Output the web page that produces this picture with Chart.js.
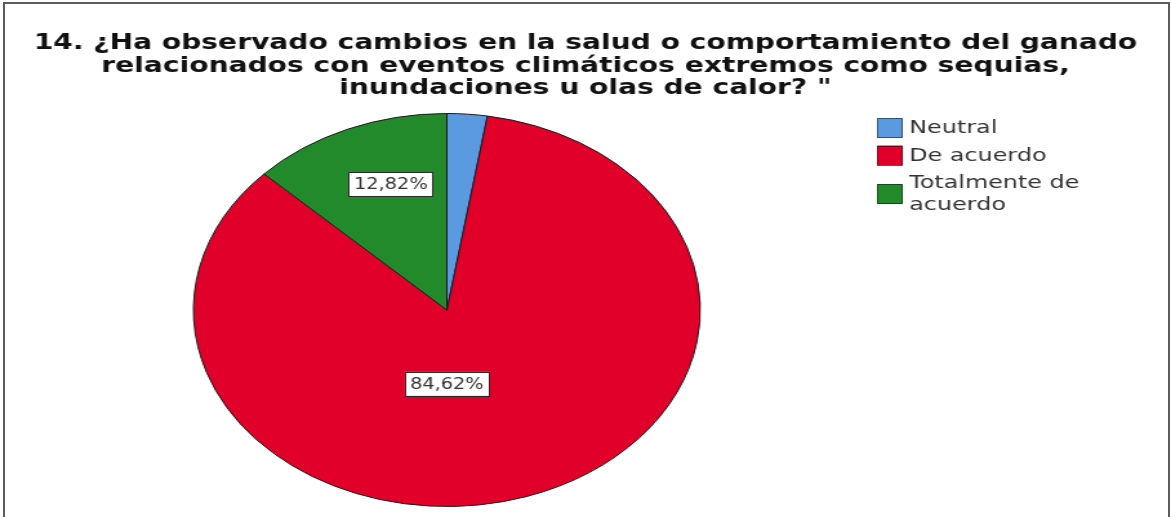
<!DOCTYPE html>
<html lang="es">
<head>
<meta charset="utf-8">
<title>Salud del ganado y eventos climáticos</title>
<script src="https://cdn.jsdelivr.net/npm/chart.js@4.4.1/dist/chart.umd.min.js"></script>
<style>
  html, body { margin: 0; padding: 0; background: #fff; overflow: hidden; }
  #marco {
    position: absolute; left: 3px; top: 2px;
    width: 1163px; height: 530px;
    border: 2px solid #5c5c5c; border-bottom: none;
  }
  #grafico { position: absolute; left: 0; top: 0; }
</style>
</head>
<body>
<div id="marco"></div>
<!-- el lienzo se dibuja a 908px y se estira a lo ancho, como el gráfico exportado -->
<canvas id="grafico" width="908" height="517" style="width:1171px;height:517px"></canvas>
<script>
const titulo = [
    '14. ¿Ha observado cambios en la salud o comportamiento del ganado',
    'relacionados con eventos climáticos extremos como sequias,',
    'inundaciones u olas de calor? "'
];
const categorias = ['Neutral', 'De acuerdo', 'Totalmente de acuerdo'];
const porcentajes = [2.56, 84.62, 12.82];
const conEtiqueta = [false, true, true];

const colores = ['#5b9ae0', '#e0002a', '#238a2b'];

// posición de las etiquetas: fracción del radio y giro sobre el ángulo medio
const etiquetaRadio = [0.6, 0.376, 0.677];
const etiquetaGiro = [0, 0.322, 0.07];

function formato(v) {
    return v.toFixed(2).replace('.', ',') + '%';
}

function partirTexto(ctx, texto, ancho) {
    const palabras = texto.split(' ');
    const lineas = [];
    let actual = '';
    palabras.forEach(p => {
        const prueba = actual ? actual + ' ' + p : p;
        if (actual && ctx.measureText(prueba).width > ancho) {
            lineas.push(actual);
            actual = p;
        } else {
            actual = prueba;
        }
    });
    if (actual) lineas.push(actual);
    return lineas;
}

const rotulos = {
    id: 'rotulos',
    afterDraw(chart) {
        const ctx = chart.ctx;
        ctx.save();

        // titulo
        ctx.fillStyle = '#111';
        ctx.font = 'bold 21.8px "DejaVu Sans"';
        ctx.textAlign = 'center';
        ctx.textBaseline = 'alphabetic';
        titulo.forEach((linea, i) => {
            ctx.fillText(linea, chart.width / 2, 49 + i * 22.5);
        });

        // etiquetas de porcentaje
        const meta = chart.getDatasetMeta(0);
        ctx.font = '15px "DejaVu Sans"';
        ctx.textBaseline = 'middle';
        meta.data.forEach((arco, i) => {
            if (!conEtiqueta[i]) return;
            const p = arco.getProps(['x', 'y', 'startAngle', 'endAngle', 'outerRadius'], true);
            const ang = (p.startAngle + p.endAngle) / 2 + etiquetaGiro[i];
            const r = p.outerRadius * etiquetaRadio[i];
            const cx = p.x + Math.cos(ang) * r;
            const cy = p.y + Math.sin(ang) * r;
            const texto = formato(porcentajes[i]);
            const w = ctx.measureText(texto).width + 8;
            const h = 24;
            ctx.fillStyle = '#fff';
            ctx.fillRect(cx - w / 2, cy - h / 2, w, h);
            ctx.strokeStyle = '#2a2a2a';
            ctx.lineWidth = 1;
            ctx.strokeRect(Math.round(cx - w / 2) + 0.5, Math.round(cy - h / 2) + 0.5, Math.round(w), h);
            ctx.fillStyle = '#333';
            ctx.fillText(texto, cx, cy + 1);
        });

        // leyenda
        ctx.font = '18.5px "DejaVu Sans"';
        ctx.textAlign = 'left';
        ctx.textBaseline = 'alphabetic';
        let base = 133;
        categorias.forEach((nombre, i) => {
            const lineas = partirTexto(ctx, nombre, 152);
            const ultima = base + (lineas.length - 1) * 22;
            const centro = (base - 13 + ultima) / 2 + 1.5;
            ctx.fillStyle = colores[i];
            ctx.fillRect(680, centro - 10, 20, 20);
            ctx.strokeStyle = 'rgba(0,0,0,0.45)';
            ctx.strokeRect(680.5, Math.round(centro - 10) + 0.5, 19, 19);
            ctx.fillStyle = '#333';
            lineas.forEach((l, j) => ctx.fillText(l, 705, base + j * 22));
            base = ultima + 27.5;
        });

        ctx.restore();
    }
};

new Chart(document.getElementById('grafico'), {
    type: 'pie',
    data: {
        labels: categorias,
        datasets: [{
            data: porcentajes,
            backgroundColor: colores,
            borderColor: '#1a1a1a',
            borderWidth: 1
        }]
    },
    options: {
        responsive: false,
        devicePixelRatio: 1,
        animation: false,
        layout: {
            padding: { top: 113, bottom: 10, left: 140, right: 355 }
        },
        plugins: {
            legend: { display: false },
            title: { display: false },
            tooltip: { enabled: false }
        }
    },
    plugins: [rotulos]
});
</script>
</body>
</html>
